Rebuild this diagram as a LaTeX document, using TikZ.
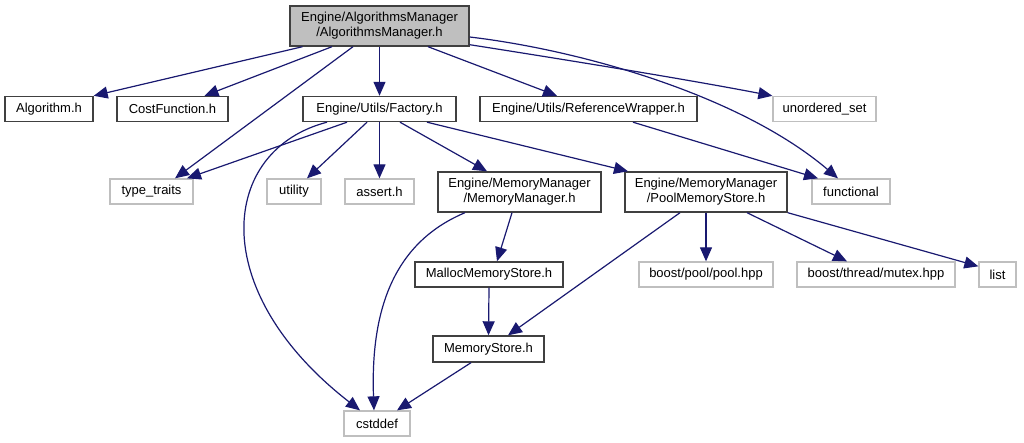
\documentclass[tikz,border=0pt]{standalone}
\usepackage{fontspec}
\setmainfont{Liberation Sans}
\usetikzlibrary{arrows.meta}
\definecolor{edgeblue}{HTML}{191970}
\definecolor{lgray}{HTML}{BFBFBF}
\definecolor{dgray}{HTML}{404040}
\begin{document}
\begin{tikzpicture}[x=1pt,y=-1pt,
  box/.style={draw=dgray,line width=1.4pt,inner sep=0pt,align=center,font=\fontsize{13}{15}\selectfont},
  extbox/.style={draw=lgray,line width=1.3pt,inner sep=0pt,align=center,font=\fontsize{13}{15}\selectfont},
  rootbox/.style={box,fill=lgray},
  dep/.style={draw=edgeblue,line width=1.2pt,-{Triangle[length=14pt 0 0,width=12pt 0 0]}}]
\useasboundingbox (0,0) rectangle (1024,443);
% nodes
\node[rootbox,minimum width=179pt,minimum height=40pt] (am) at (379.5,26) {Engine/AlgorithmsManager\\/AlgorithmsManager.h};
\node[box,minimum width=88pt,minimum height=25pt] (alg) at (49,109) {Algorithm.h};
\node[box,minimum width=111pt,minimum height=25pt] (cost) at (172.5,109) {CostFunction.h};
\node[box,minimum width=153pt,minimum height=25pt] (fac) at (379.5,109) {Engine/Utils/Factory.h};
\node[box,minimum width=217pt,minimum height=25pt] (ref) at (588.5,109) {Engine/Utils/ReferenceWrapper.h};
\node[extbox,minimum width=103pt,minimum height=25pt] (uset) at (824.5,109) {unordered\_set};
\node[extbox,minimum width=83pt,minimum height=25pt] (tt) at (151.5,191.5) {type\_traits};
\node[extbox,minimum width=54pt,minimum height=25pt] (util) at (294,191.5) {utility};
\node[extbox,minimum width=69pt,minimum height=25pt] (assert) at (379.5,191.5) {assert.h};
\node[box,minimum width=163pt,minimum height=40pt] (mm) at (519.5,192) {Engine/MemoryManager\\/MemoryManager.h};
\node[box,minimum width=162pt,minimum height=40pt] (pool) at (706,192) {Engine/MemoryManager\\/PoolMemoryStore.h};
\node[extbox,minimum width=78pt,minimum height=25pt] (func) at (851,191.5) {functional};
\node[box,minimum width=148pt,minimum height=25pt] (malloc) at (489,274.5) {MallocMemoryStore.h};
\node[extbox,minimum width=134pt,minimum height=25pt] (poolhpp) at (706,274.5) {boost/pool/pool.hpp};
\node[extbox,minimum width=158pt,minimum height=25pt] (mutex) at (876,274.5) {boost/thread/mutex.hpp};
\node[extbox,minimum width=37pt,minimum height=25pt] (list) at (997.5,274.5) {list};
\node[box,minimum width=111pt,minimum height=26pt] (ms) at (488.5,349) {MemoryStore.h};
\node[extbox,minimum width=66pt,minimum height=25pt] (cst) at (377,423.5) {cstddef};
% edges from root
\draw[dep] ([xshift=-77pt]am.south) -- (alg.north east);
\draw[dep] ([xshift=-47.5pt]am.south) -- ([xshift=32pt]cost.north);
\draw[dep] ([xshift=-26.5pt]am.south) -- ([xshift=23.5pt]tt.north);
\draw[dep] (am.south) -- (fac.north);
\draw[dep] ([xshift=48.5pt]am.south) -- ([xshift=-31.5pt]ref.north);
\draw[dep] ([yshift=2pt]am.south east) .. controls (580,62) and (690,80) .. (uset.north west);
\draw[dep] ([yshift=-11pt]am.east) .. controls (580,50) and (740,95) .. ([xshift=-13pt]func.north);
% edges from Factory
\draw[dep] ([xshift=-32.5pt]fac.south) -- ([xshift=35.5pt]tt.north);
\draw[dep] ([xshift=-52.5pt]fac.south) .. controls (220,150) and (205,290) .. ([xshift=-17pt]cst.north);
\draw[dep] ([xshift=-12.5pt]fac.south) -- ([xshift=13pt]util.north);
\draw[dep] (fac.south) -- (assert.north);
\draw[dep] ([xshift=20.5pt]fac.south) -- ([xshift=-32.5pt]mm.north);
\draw[dep] ([xshift=47.5pt]fac.south) -- ([xshift=-78pt]pool.north);
% ReferenceWrapper
\draw[dep] ([xshift=44.5pt]ref.south) -- ([xshift=-33pt]func.north);
% MemoryManager
\draw[dep] ([xshift=-7.5pt]mm.south) -- ([xshift=8pt]malloc.north);
\draw[dep] ([xshift=-54.5pt]mm.south) .. controls (400,240) and (370,300) .. ([xshift=-3pt]cst.north);
% PoolMemoryStore
\draw[dep] ([xshift=-26pt]pool.south) -- ([xshift=19.5pt]ms.north);
\draw[dep] (pool.south) -- (poolhpp.north);
\draw[dep] ([xshift=41pt]pool.south) -- ([xshift=-29pt]mutex.north);
\draw[dep] (pool.south east) -- ([yshift=-5pt]list.north west);
% Malloc, MemoryStore
\draw[dep] (malloc.south) -- (ms.north);
\draw[dep] ([xshift=-17.5pt]ms.south) -- ([xshift=20pt]cst.north);
\end{tikzpicture}
\end{document}
